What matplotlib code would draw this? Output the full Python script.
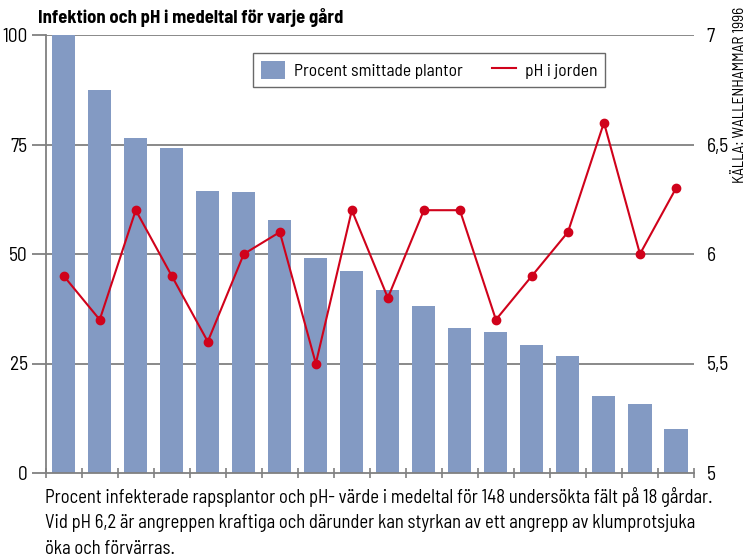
import matplotlib
matplotlib.use("Agg")
import matplotlib.pyplot as plt
from matplotlib.lines import Line2D
from matplotlib.patches import Patch

plt.rcParams['font.family'] = ['Barlow Semi Condensed', 'DejaVu Sans']

farms = list(range(1, 19))
infected_pct = [100, 87.4, 76.4, 74.2, 64.4, 64.2, 57.8, 49.1, 46.1, 41.8,
                38.1, 33.1, 32.2, 29.2, 26.7, 17.6, 15.8, 10.0]
soil_ph = [5.9, 5.7, 6.2, 5.9, 5.6, 6.0, 6.1, 5.5, 6.2, 5.8,
           6.2, 6.2, 5.7, 5.9, 6.1, 6.6, 6.0, 6.3]
left_ticks = [0, 25, 50, 75, 100]
left_labels = ["0", "25", "50", "75", "100"]
right_ticks = [5, 5.5, 6, 6.5, 7]
right_labels = ["5", "5,5", "6", "6,5", "7"]

title = "Infektion och pH i medeltal för varje gård"
caption_lines = [
    "Procent infekterade rapsplantor och pH- värde i medeltal för 148 undersökta fält på 18 gårdar.",
    "Vid pH 6,2 är angreppen kraftiga och därunder kan styrkan av ett angrepp av klumprotsjuka",
    "öka och förvärras.",
]
source = "KÄLLA: WALLENHAMMAR 1996"

bar_color = "#839AC3"
line_color = "#D0021B"
grid_color = "#808080"

fig = plt.figure(figsize=(7.48, 5.59), dpi=100)
ax = fig.add_axes([45.7/748, 1-473/559, (694-45.7)/748, (473-35)/559])

x = list(range(len(farms)))
for v in left_ticks[1:]:
    ax.axhline(v, color=grid_color, lw=1.3, zorder=0)
ax.bar(x, infected_pct, width=0.64, color=bar_color, zorder=2)
ax.set_xlim(-0.5, len(farms) - 0.5)
ax.set_ylim(0, 100)
ax.set_yticks(left_ticks)
ax.set_yticklabels(left_labels, fontsize=14)
ax.tick_params(axis='y', length=10, width=1.3, color=grid_color, pad=3)
ax.set_xticks([i - 0.5 for i in range(len(farms) + 1)])
ax.set_xticklabels([])
ax.tick_params(axis='x', direction='inout', length=7, width=1.2, color=grid_color)
for s in ['top', 'right']:
    ax.spines[s].set_visible(False)
for s in ['left', 'bottom']:
    ax.spines[s].set_color(grid_color)
    ax.spines[s].set_linewidth(1.3)

ax2 = ax.twinx()
ax2.plot(x, soil_ph, color=line_color, lw=1.5, marker='o', markersize=6, zorder=3)
ax2.set_ylim(5, 7)
ax2.set_yticks(right_ticks)
ax2.set_yticklabels(right_labels, fontsize=14)
ax2.tick_params(axis='y', length=0, pad=9)
for s in ['top', 'right', 'left', 'bottom']:
    ax2.spines[s].set_visible(False)

handles = [Patch(facecolor=bar_color, edgecolor='none', label="Procent smittade plantor"),
           Line2D([0], [0], color=line_color, lw=1.5, label="pH i jorden")]
leg = ax2.legend(handles=handles, ncol=2, loc='upper left',
                 bbox_to_anchor=((253-45.7)/(694-45.7), 1-(53-35)/438),
                 fontsize=12.6, frameon=True, fancybox=False, edgecolor='#444444',
                 borderpad=0.45, borderaxespad=0, handlelength=1.37, handleheight=1.2,
                 columnspacing=1.7, handletextpad=0.5)
leg.get_frame().set_linewidth(1.0)

fig.text(38/748, 1-18/559, title, fontsize=13.4, fontweight='bold', va='center', ha='left')
for i, line in enumerate(caption_lines):
    fig.text(45/748, 1-(497 + 26*i)/559, line, fontsize=13.4, va='center', ha='left')
fig.text(740/748, 1-95/559, source, fontsize=11, rotation=90, va='center', ha='center')

fig.savefig("out.png", dpi=100)
